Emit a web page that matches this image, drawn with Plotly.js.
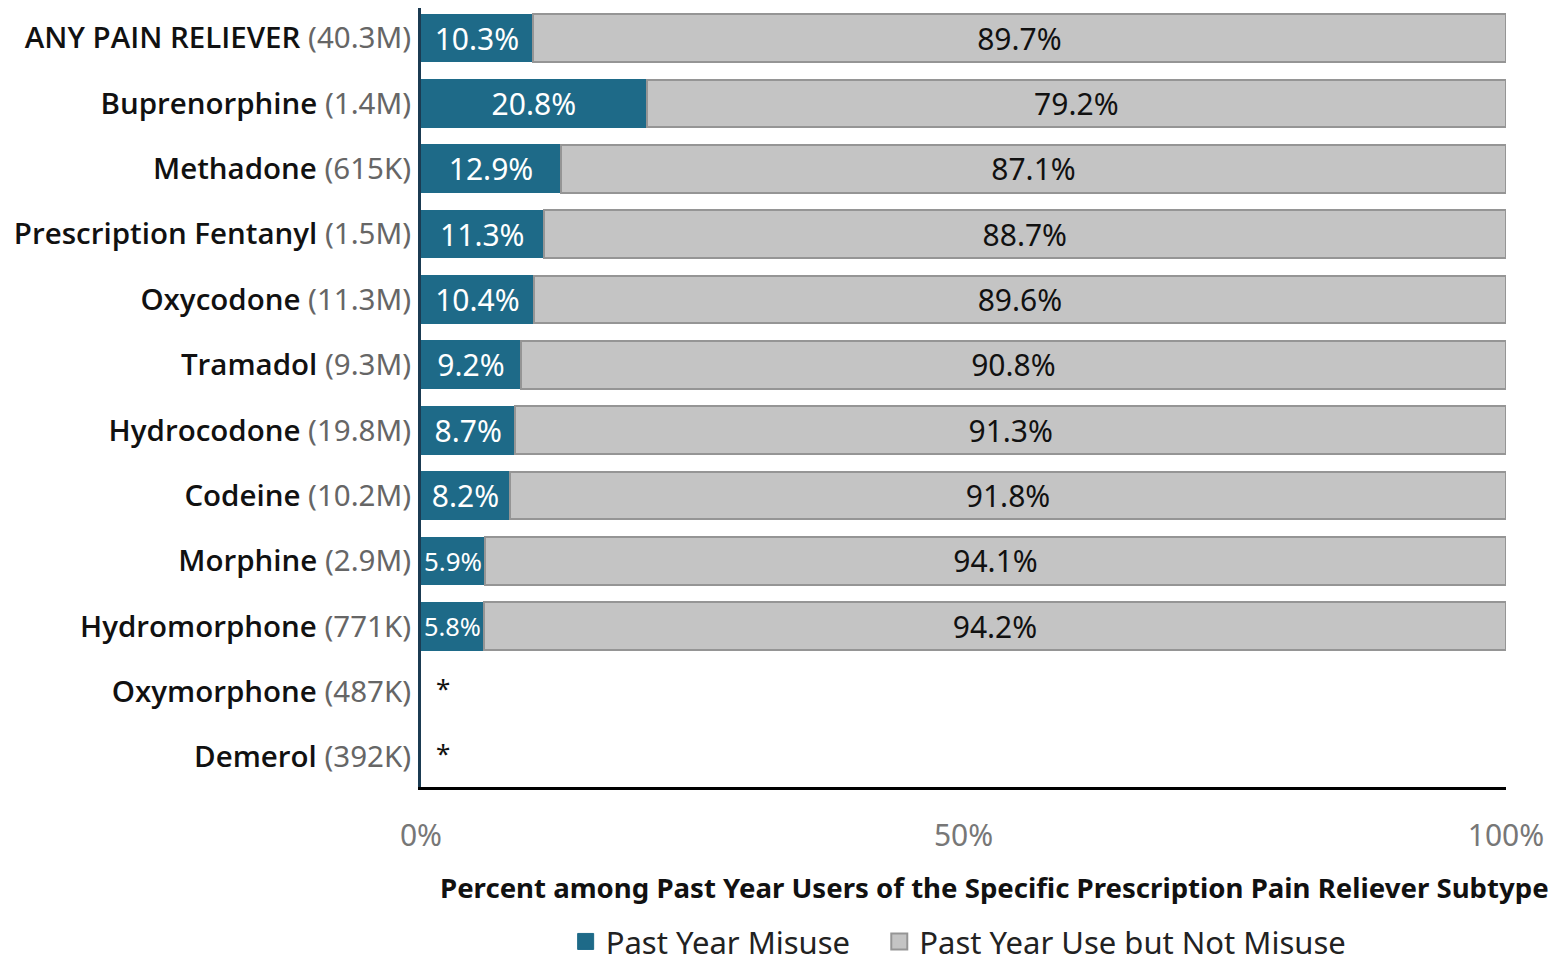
<!DOCTYPE html>
<html>
<head>
<meta charset="utf-8">
<script src="https://cdn.plot.ly/plotly-3.0.1.min.js"></script>
<style>
html,body{margin:0;padding:0;background:#fff;}
#chart{width:1554px;height:962px;}
</style>
</head>
<body>
<div id="chart"></div>
<script>
const categories = ['ANY PAIN RELIEVER','Buprenorphine','Methadone','Prescription Fentanyl','Oxycodone','Tramadol','Hydrocodone','Codeine','Morphine','Hydromorphone','Oxymorphone','Demerol'];
const userCounts = ['40.3M','1.4M','615K','1.5M','11.3M','9.3M','19.8M','10.2M','2.9M','771K','487K','392K'];
const misuse = [10.3,20.8,12.9,11.3,10.4,9.2,8.7,8.2,5.9,5.8,null,null];
const useNotMisuse = [89.7,79.2,87.1,88.7,89.6,90.8,91.3,91.8,94.1,94.2,null,null];
const suppressedMark = '*';
const xTickVals = [0,50,100];
const xTickText = ['0%','50%','100%'];
const seriesNames = ['Past Year Misuse','Past Year Use but Not Misuse'];
const xTitle = 'Percent among Past Year Users of the Specific Prescription Pain Reliever Subtype';

const FONT = 'Noto Sans, Open Sans, sans-serif';
const TEAL = '#1e6a88';
const GRAY = '#c4c4c4';
const GRAY_EDGE = '#959595';

const tickText = categories.map((c,i)=> '<span style="font-family:\'Open Sans\';font-weight:600">' + c + '</span> <span style="color:#666666">(' + userCounts[i] + ')</span>');

const traces = [
  {
    type:'bar', orientation:'h', name:seriesNames[0], showlegend:false,
    y:categories, x:misuse,
    marker:{color:TEAL, line:{color:TEAL, width:1}},
    text:misuse.map(v=> v==null ? '' : v.toFixed(1)+'%'),
    textposition:'inside', insidetextanchor:'middle',
    textfont:{family:FONT, size:30, color:'#ffffff'},
    hoverinfo:'skip'
  },
  {
    type:'bar', orientation:'h', name:seriesNames[1], showlegend:false,
    y:categories, x:useNotMisuse,
    marker:{color:GRAY, line:{color:GRAY_EDGE, width:2}},
    text:useNotMisuse.map(v=> v==null ? '' : v.toFixed(1)+'%'),
    textposition:'inside', insidetextanchor:'middle',
    textfont:{family:FONT, size:30, color:'#111111'},
    hoverinfo:'skip'
  },
  // legend proxies (no data drawn)
  {type:'scatter', mode:'markers', name:seriesNames[0] + '\u00a0\u00a0\u00a0', x:[null], y:[null],
   marker:{symbol:'square', size:20, color:TEAL, line:{color:TEAL, width:1}}, hoverinfo:'skip'},
  {type:'scatter', mode:'markers', name:seriesNames[1], x:[null], y:[null],
   marker:{symbol:'square', size:20, color:GRAY, line:{color:GRAY_EDGE, width:2}}, hoverinfo:'skip'}
];

const annotations = [];
categories.forEach((c,i)=>{
  if (misuse[i]==null) {
    annotations.push({x:1.2, y:c, xref:'x', yref:'y', text:suppressedMark, showarrow:false,
      xanchor:'left', yanchor:'middle', yshift:4, font:{family:FONT, size:26, color:'#111'}});
  }
});
annotations.push({xref:'paper', yref:'paper', x:0.5285, y:-0.128, yanchor:'middle', xanchor:'center',
  text:'<b>'+xTitle+'</b>', showarrow:false, font:{family:FONT, size:27.6, color:'#111'}});

const layout = {
  width:1554, height:962,
  margin:{l:421, r:48, t:8, b:175},
  paper_bgcolor:'#fff', plot_bgcolor:'#fff',
  barmode:'stack', bargap:0.27,
  font:{family:FONT},
  showlegend:true,
  legend:{orientation:'h', xref:'container', yref:'container', x:0.364, xanchor:'left', y:0.021, yanchor:'middle',
    font:{family:FONT, size:31, color:'#222'}, itemwidth:30, traceorder:'normal', tracegroupgap:0,
    bgcolor:'rgba(0,0,0,0)'},
  xaxis:{range:[0,100], tickvals:xTickVals, ticktext:xTickText, showgrid:false, zeroline:false,
    showline:true, linecolor:'#000', linewidth:3, ticks:'', ticklabelstandoff:20,
    tickfont:{family:FONT, size:30, color:'#777'}, fixedrange:true},
  yaxis:{type:'category', categoryorder:'array', categoryarray:categories,
    range:[11.46,-0.46], tickvals:categories, ticktext:tickText,
    showgrid:false, zeroline:false, showline:true, linecolor:'#1b3b52', linewidth:3,
    ticks:'', ticklabelstandoff:1, tickfont:{family:FONT, size:29.5, color:'#111'}, fixedrange:true},
  annotations:annotations
};

Plotly.newPlot('chart', traces, layout, {displayModeBar:false, staticPlot:true});
</script>
</body>
</html>
